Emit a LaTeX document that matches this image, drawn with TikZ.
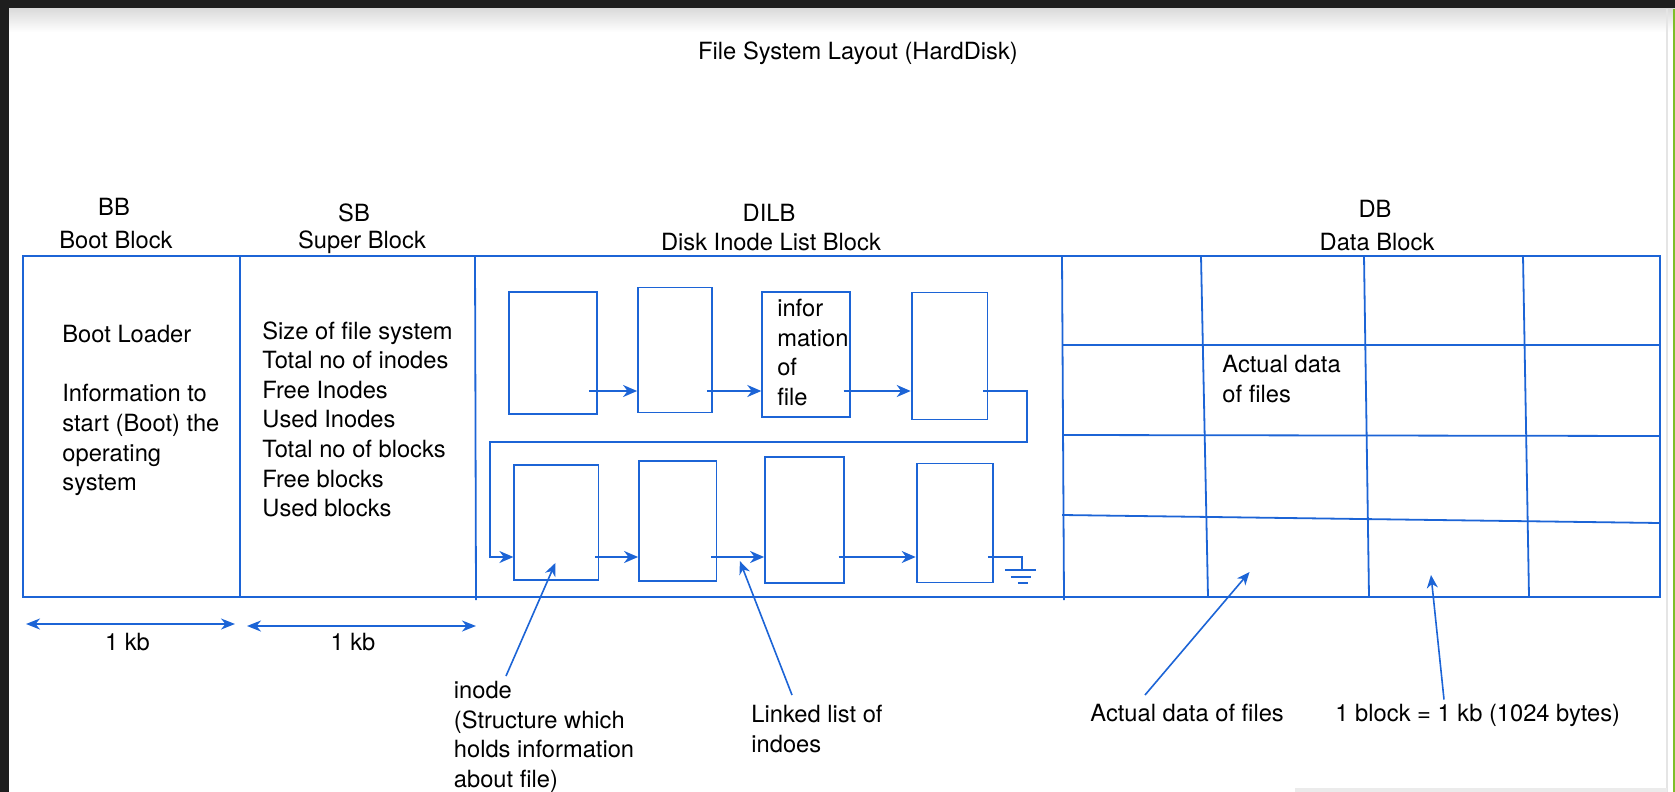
\documentclass[tikz,border=0pt]{standalone}
\usepackage{fontspec}
\setmainfont{TeX Gyre Heros}
\usepackage{xcolor}
\usepackage{tikz}
\usetikzlibrary{arrows.meta, calc}

\definecolor{fsblue}{RGB}{28,100,214}
\definecolor{scrdark}{RGB}{30,30,30}
\definecolor{scrgreen}{RGB}{125,190,40}

\begin{document}
\begin{tikzpicture}[
    x=0.5pt, y=-0.5pt,
    txt/.style={font=\fontsize{11.85}{14.8}\selectfont, inner sep=0pt, align=left},
    note/.style={txt, anchor=north west},
    inode/.style={rectangle, draw=fsblue, line width=0.9pt, inner sep=0pt},
    wall/.style={draw=fsblue, line width=0.9pt},
    link/.style={fsblue, line width=0.9pt, ->, >={Stealth[length=7pt, width=6pt, inset=2.2pt]}},
    pointer/.style={fsblue, line width=0.8pt, ->, >={Stealth[length=6.5pt, width=5.5pt, inset=2pt]}},
    dim/.style={fsblue, line width=0.9pt, <->, >={Stealth[length=7pt, width=5.5pt, inset=2.2pt]}}
]
\useasboundingbox (0,0) rectangle (1675,792);

% screen frame round the drawing
\fill[scrdark] (0,0) rectangle (1675,9);
\fill[scrdark] (0,0) rectangle (9,792);
\shade[top color=black!14, bottom color=white] (9,9) rectangle (1675,32);
\draw[black!10, line width=1pt] (1667,9) -- (1667,792);
\fill[scrgreen] (1672.5,9) rectangle (1675,792);
\fill[black!8] (1295,788) rectangle (1667,792);

\node[txt] (title) at (858,53) {File System Layout (HardDisk)};

% Disk layout: BB | SB | DILB | DB
\draw[wall] (23,256) rectangle (1660,597);
\draw[wall] (240,256) -- (240,597);
\draw[wall] (475,256) -- (476,600);
\draw[wall] (1062,256) -- (1064,600);

% data block grid
\draw[wall] (1201,256) -- (1208,597);
\draw[wall] (1364,256) -- (1369,597);
\draw[wall] (1523,256) -- (1529,597);
\draw[wall] (1062,345) -- (1660,345);
\draw[wall] (1062,435) -- (1660,436);
\draw[wall] (1062,515) -- (1660,523);

% headers
\node[txt] (bb) at (114,207) {BB};
\node[txt] (bbname) at (116,240) {Boot Block};
\node[txt] (sb) at (354,213) {SB};
\node[txt] (sbname) at (362,242) {Super Block};
\node[txt] (dilb) at (769,213) {DILB};
\node[txt] (dilbname) at (771,242) {Disk Inode List Block};
\node[txt] (db) at (1375,209) {DB};
\node[txt] (dbname) at (1377,242) {Data Block};

% contents
\node[note] (bootinfo) at (62,325) {Boot Loader\\[14.8pt]Information to\\start (Boot) the\\operating\\system};
\node[note] (superinfo) at (262,321) {Size of file system\\Total no of inodes\\Free Inodes\\Used Inodes\\Total no of blocks\\Free blocks\\Used blocks};
\node[note] (celltxt) at (1222,355) {Actual data\\of files};

% Row 1: inodes
\node[inode, minimum width=44pt, minimum height=61.3pt] (iA) at (553,353) {};
\node[inode, minimum width=37pt, minimum height=62.5pt] (iB) at (675,350) {};
\node[inode, minimum width=43.8pt, minimum height=62.8pt] (iC) at (806,354.5) {};
\node[inode, minimum width=37.9pt, minimum height=63.5pt] (iD) at (949.5,356) {};
\node[note] (infotxt) at ($(iC.north west)+(15.6,8)$) {infor\\mation\\of\\file};

% Row 2: inodes
\node[inode, minimum width=42.1pt, minimum height=57.5pt] (iE) at (556.4,522.5) {};
\node[inode, minimum width=38.7pt, minimum height=60.2pt] (iF) at (677.7,521) {};
\node[inode, minimum width=39.3pt, minimum height=63.3pt] (iG) at (804.3,520) {};
\node[inode, minimum width=38.2pt, minimum height=59.5pt] (iH) at (954.8,523) {};

\coordinate (top) at (0,391);
\coordinate (bot) at (0,557);

\draw[link] ([xshift=-4.5pt]iA.east |- top) -- (iB.west |- top);
\draw[link] ([xshift=-3pt]iB.east |- top) -- (iC.west |- top);
\draw[link] ([xshift=-3.5pt]iC.east |- top) -- (iD.west |- top);
\draw[link] ([xshift=-2.5pt]iD.east |- top) -- ++(44,0) -- ++(0,51) -- ++(-537,0) |- (iE.west |- bot);
\draw[link] ([xshift=-2pt]iE.east |- bot) -- (iF.west |- bot);
\draw[link] ([xshift=-3pt]iF.east |- bot) -- (iG.west |- bot);
\draw[link] ([xshift=-3pt]iG.east |- bot) -- (iH.west |- bot);

% null end of the list
\draw[wall] ([xshift=-3pt]iH.east |- bot) -- ++(34,0) -- ++(0,13) coordinate (gnd);
\draw[wall] ($(gnd)+(-17,0)$) -- ++(31,0);
\draw[wall] ($(gnd)+(-11,7)$) -- ++(20,0);
\draw[wall] ($(gnd)+(-4,13)$) -- ++(10,0);

% sizes
\coordinate (kbAl) at (26,624);
\coordinate (kbAr) at (235,624);
\coordinate (kbBl) at (247,626);
\coordinate (kbBr) at (476,626);
\draw[dim] (kbAl) -- (kbAr);
\draw[dim] (kbBl) -- (kbBr);
\node[txt] (kbA) at (127.5,642) {1 kb};
\node[txt] (kbB) at (353,642) {1 kb};

% labels below
\coordinate (cellB) at (1249.5,572);
\coordinate (cellC) at (1431,575);

\node[note] (lblinode) at (453.5,681) {inode\\(Structure which\\holds information\\about file)};
\draw[pointer] ($(lblinode.north west)+(52.5,-5)$) -- ($(iE.south)+(-1,-18)$);
\node[note] (lbllist) at (751,705) {Linked list of\\indoes};
\draw[pointer] ($(lbllist.north west)+(41,-10)$) -- ($(iF.south east)+(22.6,-21)$);
\node[note] (lbldata) at (1090,704) {Actual data of files};
\draw[pointer] ($(lbldata.north west)+(55,-9)$) -- (cellB);
\node[note] (lblblock) at (1335,703.5) {1 block = 1 kb (1024 bytes)};
\draw[pointer] ($(lblblock.north west)+(109,-4)$) -- (cellC);
\end{tikzpicture}
\end{document}
